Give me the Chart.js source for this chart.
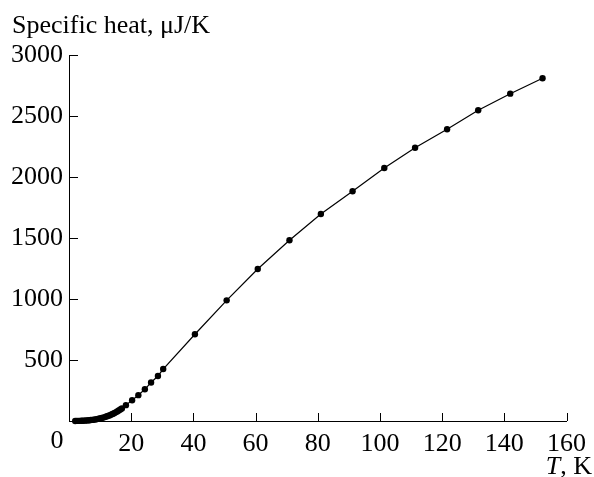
<!DOCTYPE html>
<html>
<head>
<meta charset="utf-8">
<script src="https://cdn.jsdelivr.net/npm/chart.js@4"></script>
<style>
  html, body { margin: 0; padding: 0; background: #fff; }
  #wrap { width: 594px; height: 477px; }
</style>
</head>
<body>
<div id="wrap"><canvas id="heatChart" width="594" height="477"></canvas></div>
<script>
// Specific heat vs temperature
const temperature = [
    2, 2.5, 3, 3.5, 4, 4.5, 5, 5.5, 6, 6.5, 7, 7.5, 8, 8.5, 9, 9.5, 10,
    10.5, 11, 11.5, 12, 12.5, 13, 13.5, 14, 14.5, 15, 15.5, 16, 16.5, 17,
    18.3, 20.3, 22.3, 24.4, 26.4, 28.6, 30.3,
    40.5, 50.7, 60.7, 70.9, 81.0, 91.2, 101.4, 111.3, 121.6, 131.6, 141.9, 152.3
];
const specificHeat = [
    0.5, 0.7, 1, 1.3, 1.8, 2.4, 3.1, 4, 5, 6.2, 7.6, 9.2, 11, 13, 15.5, 18, 21,
    24.5, 28, 32, 36.5, 41, 46, 52, 58, 64, 71, 78, 86, 94, 103,
    130, 170, 212, 260, 316, 369, 426,
    711, 989, 1246, 1481, 1697, 1883, 2074, 2240, 2391, 2547, 2683, 2809
];
const xTicks = [20, 40, 60, 80, 100, 120, 140, 160];
const yTicks = [500, 1000, 1500, 2000, 2500, 3000];

const serif = '"Liberation Serif", "DejaVu Serif", serif';
const fontSize = 26;

// inward tick marks, corner "0", axis captions
const decorations = {
    id: 'decorations',
    afterDraw(chart) {
        const ctx = chart.ctx;
        const x = chart.scales.x;
        const y = chart.scales.y;
        const area = chart.chartArea;
        ctx.save();
        ctx.strokeStyle = '#000';
        ctx.lineWidth = 1;
        ctx.beginPath();
        xTicks.forEach(v => {
            const px = Math.round(x.getPixelForValue(v)) + 0.5;
            ctx.moveTo(px, area.bottom);
            ctx.lineTo(px, area.bottom - 8);
        });
        yTicks.forEach(v => {
            const py = Math.round(y.getPixelForValue(v)) + 0.5;
            ctx.moveTo(area.left, py);
            ctx.lineTo(area.left + 9, py);
        });
        ctx.stroke();

        ctx.fillStyle = '#000';
        ctx.font = `${fontSize}px ${serif}`;
        ctx.textBaseline = 'alphabetic';
        ctx.textAlign = 'center';
        ctx.fillText('0', 57, 448);

        ctx.textAlign = 'left';
        ctx.fillText('Specific heat, \u03bcJ/K', 12, 33);

        // "T, K" with italic T, right aligned
        const rest = ', K';
        const restW = ctx.measureText(rest).width;
        ctx.font = `italic ${fontSize}px ${serif}`;
        const tW = ctx.measureText('T').width;
        const right = 592;
        ctx.fillText('T', right - restW - tW, 474);
        ctx.font = `${fontSize}px ${serif}`;
        ctx.fillText(rest, right - restW, 474);
        ctx.restore();
    }
};

const ctx = document.getElementById('heatChart').getContext('2d');
new Chart(ctx, {
    type: 'line',
    data: {
        datasets: [{
            data: temperature.map((t, i) => ({ x: t, y: specificHeat[i] })),
            borderColor: '#000',
            backgroundColor: '#000',
            borderWidth: 1.2,
            pointRadius: 3.2,
            pointBorderWidth: 0,
            pointBackgroundColor: '#000',
            tension: 0,
            fill: false,
            clip: false
        }]
    },
    options: {
        responsive: false,
        animation: false,
        events: [],
        layout: { padding: { top: 55, right: 21, left: 0, bottom: 0 } },
        plugins: {
            legend: { display: false },
            title: { display: false },
            tooltip: { enabled: false }
        },
        scales: {
            x: {
                type: 'linear',
                min: 0,
                max: 160,
                afterBuildTicks: s => { s.ticks = xTicks.map(v => ({ value: v })); },
                afterFit: s => { s.height = 56; },
                grid: { display: false, drawTicks: false },
                border: { display: true, color: '#000', width: 1 },
                ticks: {
                    color: '#000',
                    padding: 8,
                    maxRotation: 0,
                    callback: v => String(v),
                    font: { family: serif, size: fontSize }
                }
            },
            y: {
                type: 'linear',
                min: 0,
                max: 3000,
                afterBuildTicks: s => { s.ticks = yTicks.map(v => ({ value: v })); },
                afterFit: s => { s.width = 69; },
                grid: { display: false, drawTicks: false },
                border: { display: true, color: '#000', width: 1 },
                ticks: {
                    color: '#000',
                    padding: 6,
                    callback: v => String(v),
                    font: { family: serif, size: fontSize }
                }
            }
        }
    },
    plugins: [decorations]
});
</script>
</body>
</html>
